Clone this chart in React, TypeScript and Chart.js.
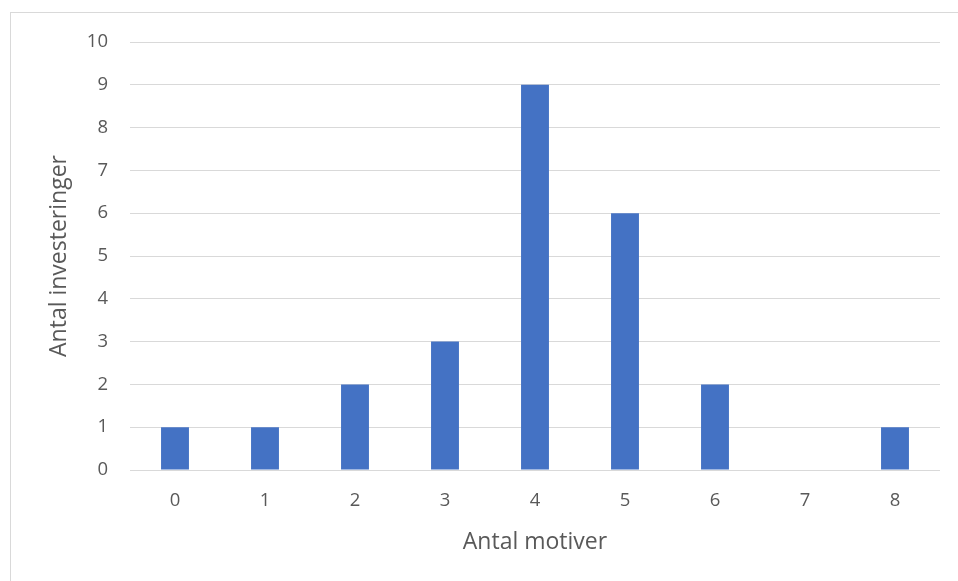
import React, { useEffect, useRef } from "react";
import { Chart, registerables } from "chart.js";

Chart.register(...registerables);

const categories = ["0", "1", "2", "3", "4", "5", "6", "7", "8"];
const investments = [1, 1, 2, 3, 9, 6, 2, 0, 1];
const xTitle = "Antal motiver";
const yTitle = "Antal investeringer";

export default function App() {
  const ref = useRef<HTMLCanvasElement>(null);
  useEffect(() => {
    if (!ref.current) return;
    const font = "'Open Sans', 'Noto Sans', sans-serif";
    const chart = new Chart(ref.current, {
      type: "bar",
      data: {
        labels: categories,
        datasets: [
          {
            data: investments,
            backgroundColor: "#4472c4",
            barPercentage: 0.31,
            categoryPercentage: 1,
          },
        ],
      },
      options: {
        animation: false,
        responsive: false,
        maintainAspectRatio: false,
        layout: { padding: { left: 45.2, right: 18, top: 42, bottom: 25.2 } },
        plugins: { legend: { display: false }, tooltip: { enabled: false } },
        scales: {
          x: {
            grid: { display: false },
            border: { display: false },
            ticks: { color: "#595959", font: { family: font, size: 18.5 }, padding: 12 },
            title: {
              display: true,
              text: xTitle,
              color: "#595959",
              font: { family: font, size: 23 },
              padding: 0,
            },
            afterFit: (s: any) => {
              s.height = 85.8;
            },
          },
          y: {
            min: 0,
            max: 10,
            grid: { color: "#d9d9d9", lineWidth: 1, drawTicks: false },
            border: { display: false },
            ticks: { stepSize: 1, color: "#595959", font: { family: font, size: 18.5 }, padding: 22 },
            title: {
              display: true,
              text: yTitle,
              color: "#595959",
              font: { family: font, size: 23 },
              padding: 0,
            },
            afterFit: (s: any) => {
              s.width = 84.8;
            },
          },
        },
      },
    });
    return () => chart.destroy();
  }, []);
  return (
    <div style={{ position: "fixed", left: 0, top: 0, width: 958, height: 581, background: "#fff" }}>
      <div
        style={{
          position: "absolute",
          left: 10,
          top: 12,
          width: 960,
          height: 580,
          border: "1px solid #d9d9d9",
          boxSizing: "border-box",
        }}
      />
      <canvas ref={ref} width={958} height={581} style={{ position: "absolute", left: 0, top: 0 }} />
    </div>
  );
}
